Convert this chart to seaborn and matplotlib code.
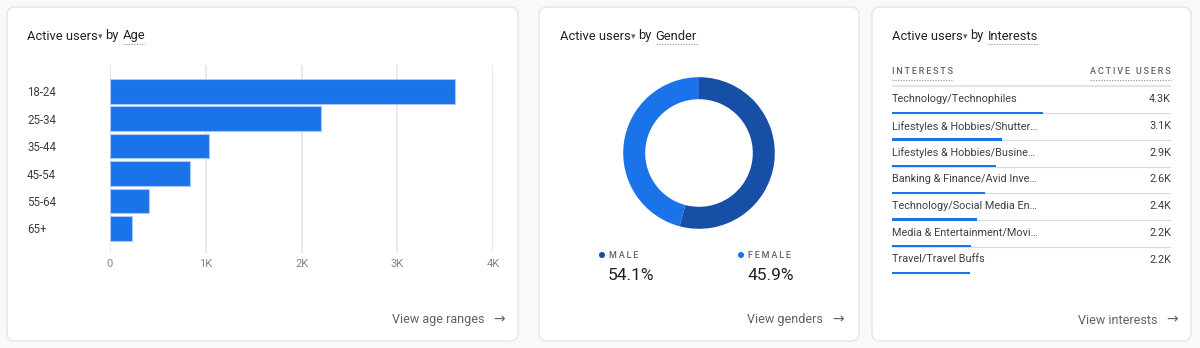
import matplotlib
matplotlib.use("Agg")
import matplotlib.pyplot as plt
import matplotlib.transforms as mtransforms
from matplotlib.patches import FancyBboxPatch, Circle
from matplotlib.lines import Line2D
import seaborn as sns

# ---- data -------------------------------------------------------------
age_groups = ["18-24", "25-34", "35-44", "45-54", "55-64", "65+"]
age_users = [3600, 2200, 1030, 835, 410, 230]
age_ticks = [0, 1000, 2000, 3000, 4000]
age_tick_labels = ["0", "1K", "2K", "3K", "4K"]

genders = ["MALE", "FEMALE"]
gender_share = [54.1, 45.9]

interests = [
    "Technology/Technophiles",
    "Lifestyles & Hobbies/Shutter…",
    "Lifestyles & Hobbies/Busine…",
    "Banking & Finance/Avid Inve…",
    "Technology/Social Media En…",
    "Media & Entertainment/Movi…",
    "Travel/Travel Buffs",
]
interest_users = [4280, 3120, 2940, 2640, 2420, 2240, 2210]

# ---- style ------------------------------------------------------------
sns.set_theme(style="white")
plt.rcParams["font.family"] = ["Roboto", "DejaVu Sans"]

BLUE = "#1a73e8"
DARK_BLUE = "#174ea6"
TEXT = "#202124"
TEXT2 = "#3c4043"
MUTED = "#5f6368"
LINE = "#dadce0"
GRID = "#e8eaed"

W, H = 1200, 348
fig = plt.figure(figsize=(W / 100, H / 100), dpi=100)
fig.patch.set_facecolor("#f8f9fa")
px = mtransforms.Affine2D().scale(1 / W, -1 / H).translate(0, 1) + fig.transFigure
renderer = fig.canvas.get_renderer()


def add_ax(x0, y0, x1, y1):
    ax = fig.add_axes([x0 / W, 1 - y1 / H, (x1 - x0) / W, (y1 - y0) / H])
    ax.set_facecolor("none")
    return ax


def card(x0, y0, x1, y1):
    p = FancyBboxPatch((x0, y0), x1 - x0, y1 - y0,
                       boxstyle="round,pad=0,rounding_size=8",
                       transform=px, facecolor="white", edgecolor="#e3e5e8",
                       linewidth=1.0, zorder=-5)
    fig.add_artist(p)


def dotted_under(x0, x1, y, color="#9aa0a6"):
    fig.add_artist(Line2D([x0, x1], [y, y], transform=px, color=color,
                          lw=0.8, linestyle=(0, (1.2, 1.2)), zorder=5))


def spaced(s):
    # letter-spaced caption: thin spaces between the letters
    return "\u2009".join(s)


def header(x, y, field):
    t1 = fig.text(x, y, "Active users", transform=px, fontsize=9.3,
                  color=TEXT, va="center", ha="left")
    x = t1.get_window_extent(renderer).x1 + 0.5
    t2 = fig.text(x, y + 0.5, "▾", transform=px, fontsize=6.5, color=MUTED,
                  va="center", ha="left", family=["DejaVu Sans"])
    x = t2.get_window_extent(renderer).x1 + 2.5
    t3 = fig.text(x, y, "by", transform=px, fontsize=9.3, color=TEXT,
                  va="center", ha="left")
    x = t3.get_window_extent(renderer).x1 + 4
    t4 = fig.text(x, y, field, transform=px, fontsize=9.3, color=TEXT,
                  va="center", ha="left")
    b4 = t4.get_window_extent(renderer)
    dotted_under(b4.x0, b4.x1, y + 7.5)


def link(x_text_end, y, label):
    fig.text(x_text_end, y, label, transform=px, fontsize=9, color=MUTED,
             va="center", ha="right")
    fig.text(x_text_end + 15, y - 1, "→", transform=px, fontsize=10,
             color=MUTED, va="center", ha="center",
             family=["DejaVu Sans"])


# ---- cards ------------------------------------------------------------
card(7, 7, 518, 341)
card(539, 7, 859, 341)
card(872, 7, 1191, 341)

header(27, 36, "Age")
header(560, 36, "Gender")
header(892, 36, "Interests")

# ---- age bar chart ----------------------------------------------------
ax = add_ax(110, 65, 493, 253)
sns.barplot(x=age_users, y=age_groups, orient="h", color=BLUE, saturation=1,
            width=0.9, edgecolor="#a8c7fa", linewidth=0.8, ax=ax, zorder=3)
ax.set_xlim(0, 4000)
ax.set_ylim(5.9, -0.96)
ax.set_xticks(age_ticks)
ax.set_xticklabels(age_tick_labels)
ax.grid(axis="x", color=GRID, lw=1.4)
ax.grid(axis="y", visible=False)
ax.set_axisbelow(True)
sns.despine(ax=ax, left=True, bottom=True)
ax.set_xlabel("")
ax.set_ylabel("")
ax.tick_params(axis="x", length=0, pad=4, labelsize=8, labelcolor="#80868b")
ax.tick_params(axis="y", length=4.3, width=0.8, color=LINE, pad=55.4,
               labelsize=8.3, labelcolor=TEXT2)
for t in ax.get_yticklabels():
    t.set_ha("left")

link(484, 320, "View age ranges")

# ---- gender donut -----------------------------------------------------
cx, cy, r = 699, 153, 75.8
lim = 80 / r
axd = add_ax(cx - 80, cy - 80, cx + 80, cy + 80)
axd.pie(gender_share, colors=[DARK_BLUE, BLUE], startangle=90,
        counterclock=False, radius=1,
        wedgeprops=dict(width=22 / r, linewidth=0))
axd.set_xlim(-lim, lim)
axd.set_ylim(-lim, lim)
axd.set_aspect("equal")
axd.axis("off")

small_caps = dict(fontsize=6.5, color=MUTED, fontweight="medium",
                  va="center", transform=px)
for (gx, name, share, col) in [(602, genders[0], gender_share[0], DARK_BLUE),
                                (741, genders[1], gender_share[1], BLUE)]:
    fig.add_artist(Circle((gx, 255), 2.3, transform=px, color=col, zorder=5))
    fig.text(gx + 7, 255, spaced(name), ha="left", **small_caps)
    fig.text(gx + 6, 275, f"{share:.1f}%", transform=px, fontsize=12.5,
             color=TEXT, va="center", ha="left")

link(823, 320, "View genders")

# ---- interests table --------------------------------------------------
x0, x1 = 892, 1171
y_first, pitch = 112.7, 26.7
ytop, ybot = 60, 280
xmax = (x1 - x0) / 35.3 * 1000
axt = add_ax(x0, ytop, x1, ybot)
sns.barplot(x=interest_users, y=interests, orient="h", color=BLUE,
            saturation=1, width=0.085, linewidth=0, ax=axt, zorder=3)
axt.set_xlim(0, xmax)
axt.set_ylim((ybot - y_first) / pitch, (ytop - y_first) / pitch)
axt.axis("off")

axt.axhline(-1.0, color="#e3e5e8", lw=1.6, zorder=1)
for i in range(len(interests) - 1):
    axt.axhline(i + 0.02, color=LINE, lw=0.9, zorder=1)

for i, (name, v) in enumerate(zip(interests, interest_users)):
    axt.text(0, i - 0.5, name, fontsize=7.8, color=TEXT2, va="center",
             ha="left")
    axt.text(xmax, i - 0.5, f"{v / 1000:.1f}K", fontsize=7.8, color=TEXT2,
             va="center", ha="right")

hy = 72
for label, xx, ha in [("INTERESTS", x0, "left"), ("ACTIVE USERS", x1, "right")]:
    t = fig.text(xx, hy, spaced(label), ha=ha, **small_caps)
    b = t.get_window_extent(renderer)
    dotted_under(b.x0, b.x1, 80)

link(1157, 320, "View interests")

fig.savefig("out.png", dpi=100, facecolor=fig.get_facecolor())
